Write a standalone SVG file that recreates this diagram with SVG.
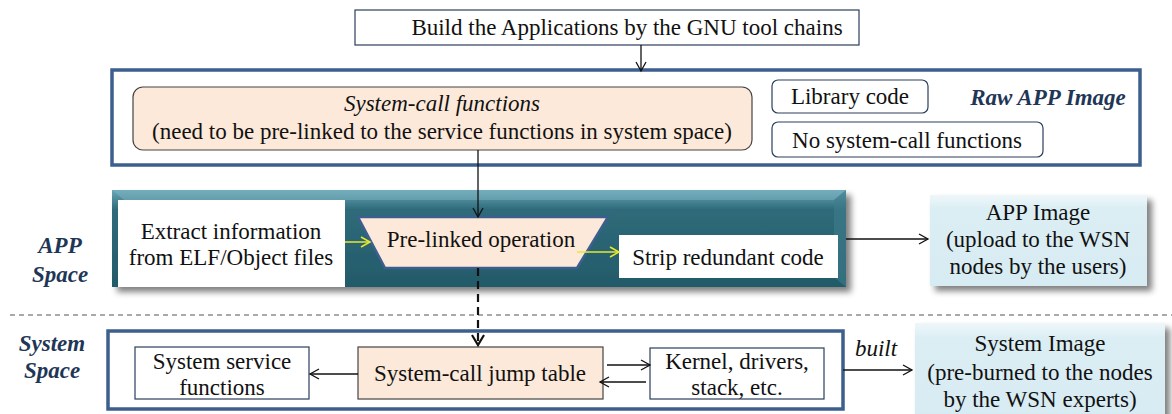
<svg xmlns="http://www.w3.org/2000/svg" width="1172" height="414" viewBox="0 0 1172 414">
<style>
.t{font-family:"Liberation Serif","Times New Roman",serif;font-size:23px;fill:#111;text-anchor:middle}
.lbl{font-family:"Liberation Serif","Times New Roman",serif;font-size:23px;font-weight:bold;font-style:italic;fill:#1f3756;text-anchor:middle}
.wbox{fill:#fff;stroke:#2a3f5c;stroke-width:1.2}
.frame{fill:#fff;stroke:#3d5f8f;stroke-width:3.5}
.peach{fill:#fde9d9;stroke:#444;stroke-width:1.2}
.ln{stroke:#111;stroke-width:1.3;fill:none}
.yl{stroke:#e8e830;stroke-width:1.5;fill:none}
</style>
<defs>
<marker id="ah" markerWidth="12" markerHeight="12" refX="10" refY="6" orient="auto" markerUnits="userSpaceOnUse">
<path d="M1,1 L10,6 L1,11" fill="none" stroke="#111" stroke-width="1.3"/>
</marker>
<marker id="ahy" markerWidth="12" markerHeight="12" refX="10" refY="6" orient="auto" markerUnits="userSpaceOnUse">
<path d="M1,1 L10,6 L1,11" fill="none" stroke="#e8e830" stroke-width="1.5"/>
</marker>
<marker id="ahb" markerWidth="14" markerHeight="14" refX="11" refY="7" orient="auto" markerUnits="userSpaceOnUse">
<path d="M1,1 L11,7 L1,13" fill="none" stroke="#111" stroke-width="2.2"/>
</marker>
<linearGradient id="teal" x1="0" y1="0" x2="0" y2="1">
<stop offset="0" stop-color="#6aa6b6"/>
<stop offset="0.2" stop-color="#2f6b7a"/>
<stop offset="1" stop-color="#235a69"/>
</linearGradient>
<linearGradient id="lb" x1="0" y1="0" x2="0" y2="1">
<stop offset="0" stop-color="#eef7fa"/>
<stop offset="0.15" stop-color="#dbeef4"/>
<stop offset="1" stop-color="#d7ebf2"/>
</linearGradient>
<filter id="sh" x="-10%" y="-10%" width="130%" height="140%">
<feGaussianBlur in="SourceAlpha" stdDeviation="3"/>
<feOffset dx="5" dy="5"/>
<feComponentTransfer><feFuncA type="linear" slope="0.5"/></feComponentTransfer>
<feMerge><feMergeNode/><feMergeNode in="SourceGraphic"/></feMerge>
</filter>
</defs>

<g id="build">
<rect class="wbox" x="355" y="10" width="504" height="35"/>
<text class="t" x="627" y="35">Build the Applications by the GNU tool chains</text>
</g>

<g id="raw-app-image">
<rect class="frame" x="112" y="70" width="1028" height="95"/>
<text class="lbl" x="1048" y="105">Raw APP Image</text>
</g>
<g id="syscall-functions">
<rect class="peach" x="133" y="87" width="619" height="63" rx="10"/>
<text class="t" x="442" y="111" font-style="italic">System-call functions</text>
<text class="t" x="442" y="139">(need to be pre-linked to the service functions in system space)</text>
</g>
<g id="library-code">
<rect class="wbox" x="772" y="80" width="156" height="33" rx="6"/>
<text class="t" x="850" y="104">Library code</text>
</g>
<g id="no-syscall">
<rect class="wbox" x="772" y="122" width="271" height="35" rx="6"/>
<text class="t" x="907" y="148">No system-call functions</text>
</g>

<g id="app-space">
<text class="lbl" x="60" y="253">APP</text>
<text class="lbl" x="60" y="282">Space</text>
<rect x="112" y="190" width="734" height="97" fill="url(#teal)" filter="url(#sh)"/>
<path d="M112,190 L846,190 L834,200 L124,200 Z" fill="#7db4c2" opacity="0.5"/>
<path d="M846,190 L846,287 L834,277 L834,200 Z" fill="#3f7d8c" opacity="0.6"/>
</g>
<g id="extract">
<rect x="118" y="200" width="227" height="87" fill="#fff"/>
<text class="t" x="231" y="239">Extract information</text>
<text class="t" x="231" y="265">from ELF/Object files</text>
</g>
<g id="prelinked">
<path d="M358,217 L608,217 L577,268 L385,268 Z" fill="#fde9d9" stroke="#3d5f8f" stroke-width="2.5"/>
<text class="t" x="481" y="247">Pre-linked operation</text>
</g>
<g id="strip">
<rect x="619" y="235" width="219" height="43" fill="#fff"/>
<text class="t" x="728" y="265">Strip redundant code</text>
</g>
<g id="app-image">
<rect x="930" y="195" width="217" height="91" fill="url(#lb)" filter="url(#sh)"/>
<text class="t" x="1038" y="220">APP Image</text>
<text class="t" x="1038" y="247">(upload to the WSN</text>
<text class="t" x="1038" y="274">nodes by the users)</text>
</g>

<line x1="10" y1="315" x2="1172" y2="315" stroke="#555" stroke-width="1.2" stroke-dasharray="5,4"/>

<g id="system-space">
<text class="lbl" x="52" y="351">System</text>
<text class="lbl" x="52" y="378">Space</text>
<rect class="frame" x="108" y="331" width="735" height="78"/>
</g>
<g id="service">
<rect class="wbox" x="135" y="347" width="174" height="52"/>
<text class="t" x="222" y="369">System service</text>
<text class="t" x="222" y="395">functions</text>
</g>
<g id="jump-table">
<rect class="peach" x="358" y="347" width="245" height="52"/>
<text class="t" x="480" y="381">System-call jump table</text>
</g>
<g id="kernel">
<rect class="wbox" x="650" y="348" width="174" height="51"/>
<text class="t" x="737" y="369">Kernel, drivers,</text>
<text class="t" x="737" y="395">stack, etc.</text>
</g>
<g id="system-image">
<rect x="915" y="323" width="250" height="100" fill="url(#lb)" filter="url(#sh)"/>
<text class="t" x="1040" y="351">System Image</text>
<text class="t" x="1040" y="380">(pre-burned to the nodes</text>
<text class="t" x="1040" y="407">by the WSN experts)</text>
</g>

<g id="connectors">
<line class="ln" x1="641" y1="45" x2="641" y2="71" marker-end="url(#ah)"/>
<line class="ln" x1="478" y1="150" x2="478" y2="217" marker-end="url(#ah)"/>
<line class="yl" x1="345" y1="242" x2="370" y2="242" marker-end="url(#ahy)"/>
<line class="yl" x1="577" y1="252" x2="619" y2="252" marker-end="url(#ahy)"/>
<line class="ln" x1="846" y1="239" x2="928" y2="239" marker-end="url(#ah)"/>
<line x1="478" y1="268" x2="478" y2="345" stroke="#111" stroke-width="2.2" stroke-dasharray="8,5" marker-end="url(#ahb)"/>
<line class="ln" x1="358" y1="374" x2="310" y2="374" marker-end="url(#ah)"/>
<line class="ln" x1="607" y1="365" x2="650" y2="365" marker-end="url(#ah)"/>
<line class="ln" x1="646" y1="382" x2="600" y2="382" marker-end="url(#ah)"/>
<line class="ln" x1="843" y1="370" x2="912" y2="370" marker-end="url(#ah)"/>
<text x="876" y="356" font-family="Liberation Serif, serif" font-size="23" font-style="italic" fill="#111" text-anchor="middle">built</text>
</g>
</svg>
